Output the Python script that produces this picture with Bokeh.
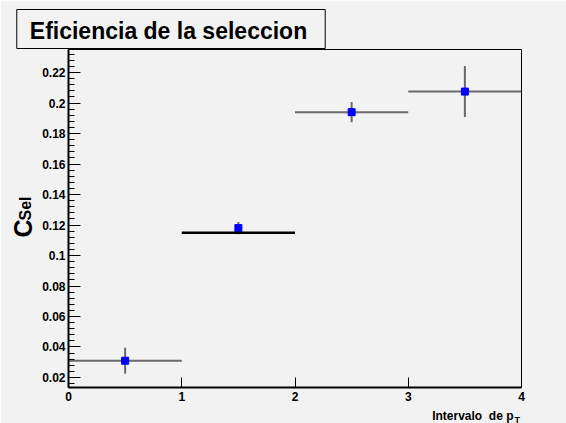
import math
from bokeh.plotting import figure
from bokeh.models import Label, FixedTicker, Range1d, CustomJSTickFormatter
from bokeh.embed import file_html
from bokeh.resources import INLINE

# ---------------- data ----------------
bin_low = [0, 1, 2, 3]
bin_high = [1, 2, 3, 4]
efficiency = [0.031, 0.118, 0.194, 0.2075]
efficiency_err = [0.0085, 0.004, 0.0066, 0.0167]
x_err_drawn = [0.5, 0.0, 0.5, 0.5]
bin2_line_low = [1]
bin2_line_high = [2]
bin2_line_value = [0.115]
x_ticks = [0, 1, 2, 3, 4]
y_ticks = [0.02, 0.04, 0.06, 0.08, 0.10, 0.12, 0.14, 0.16, 0.18, 0.20, 0.22]
title_text = "Eficiencia de la seleccion"
x_title = "Intervalo\u00a0 de p"
x_title_sub = "T"
y_title = "C"
y_title_sub = "Sel"

# ---------------- layout ----------------
W, H = 566, 423
FL, FR, FT, FB = 68, 521, 49, 387     # frame edges in figure pixels
X0, X1 = 0.0, 4.0
Y0, Y1 = 0.01344, 0.2351
BG = "#f2f2f2"
FONT = "Liberation Sans"

p = figure(width=W, height=H, output_backend="svg", toolbar_location=None,
           x_range=Range1d(X0, X1), y_range=Range1d(Y0, Y1),
           min_border_left=FL, min_border_right=W - FR,
           min_border_top=FT, min_border_bottom=H - FB)
p.background_fill_color = BG
p.border_fill_color = BG
p.outline_line_color = "black"
p.outline_line_width = 1
p.xgrid.visible = False
p.ygrid.visible = False


def dx(px):
    return X0 + (px - FL) / (FR - FL) * (X1 - X0)


def dy(py):
    return Y1 - (py - FT) / (FB - FT) * (Y1 - Y0)


# axes
for ax in (p.xaxis[0], p.yaxis[0]):
    ax.axis_line_color = "black"
    ax.axis_line_width = 2
    ax.major_tick_line_color = "black"
    ax.minor_tick_line_color = "black"
    ax.major_tick_out = 0
    ax.minor_tick_out = 0
    ax.major_label_text_font = FONT
    ax.major_label_text_font_size = "12px"
    ax.major_label_text_font_style = "bold"
    ax.major_label_text_color = "black"

minor_y = []
for i in range(len(y_ticks) - 1):
    step = (y_ticks[i + 1] - y_ticks[i]) / 5
    minor_y += [y_ticks[i] + k * step for k in range(1, 5)]
step = (y_ticks[1] - y_ticks[0]) / 5
minor_y = [y_ticks[0] - k * step for k in range(1, 3)] + minor_y + \
          [y_ticks[-1] + k * step for k in range(1, 4)]

p.yaxis.ticker = FixedTicker(ticks=y_ticks, minor_ticks=minor_y)
p.yaxis.major_tick_in = 12
p.yaxis.minor_tick_in = 6
p.yaxis.major_label_standoff = 3
p.yaxis.formatter = CustomJSTickFormatter(code="return String(Number(tick.toFixed(4)));")

p.xaxis.ticker = FixedTicker(ticks=x_ticks, minor_ticks=[])
p.xaxis.major_tick_in = 10
p.xaxis.major_label_standoff = 4

# ---------------- glyphs ----------------
centers = [(a + b) / 2 for a, b in zip(bin_low, bin_high)]
err_color = "#6a6a6a"
p.segment(x0=[c - e for c, e in zip(centers, x_err_drawn)], y0=efficiency,
          x1=[c + e for c, e in zip(centers, x_err_drawn)], y1=efficiency,
          line_color=err_color, line_width=2)
p.segment(x0=centers, y0=[v - e for v, e in zip(efficiency, efficiency_err)],
          x1=centers, y1=[v + e for v, e in zip(efficiency, efficiency_err)],
          line_color=err_color, line_width=2)
p.scatter(x=centers, y=efficiency, marker="square", size=7,
          fill_color="#0000ff", line_color="#0000ff")
p.segment(x0=bin2_line_low, y0=bin2_line_value, x1=bin2_line_high, y1=bin2_line_value,
          line_color="black", line_width=2.5)

# ---------------- texts (in side panels, so they are not clipped) ----------------
# padding order: (left, right, top, bottom); the anchor is the centre of the whole box
box = Label(x=dx(170.5), y=dy(28.5), text=title_text, text_font=FONT, text_font_size="23px",
            text_font_style="bold", text_align="center", text_baseline="middle",
            text_color="black", background_fill_color=BG,
            border_line_color="black", border_line_width=1, padding=(13, 18, 8, 5))
p.add_layout(box, "above")

p.add_layout(Label(x=dx(22), y=dy(237), text=y_title, angle=math.pi / 2,
                   text_font=FONT, text_font_size="25px", text_font_style="bold",
                   text_align="left", text_baseline="alphabetic", text_color="black"), "left")
p.add_layout(Label(x=dx(25), y=dy(220), text=y_title_sub, angle=math.pi / 2,
                   text_font=FONT, text_font_size="16px", text_font_style="bold",
                   text_align="left", text_baseline="alphabetic", text_color="black"), "right")

p.add_layout(Label(x=dx(513), y=dy(415), text=x_title,
                   text_font=FONT, text_font_size="12px", text_font_style="bold",
                   text_align="right", text_baseline="alphabetic", text_color="black"), "below")
p.add_layout(Label(x=dx(514), y=dy(419), text=x_title_sub,
                   text_font=FONT, text_font_size="9px", text_font_style="bold",
                   text_align="left", text_baseline="alphabetic", text_color="black"), "right")

open("out.html", "w").write(file_html(p, INLINE))
